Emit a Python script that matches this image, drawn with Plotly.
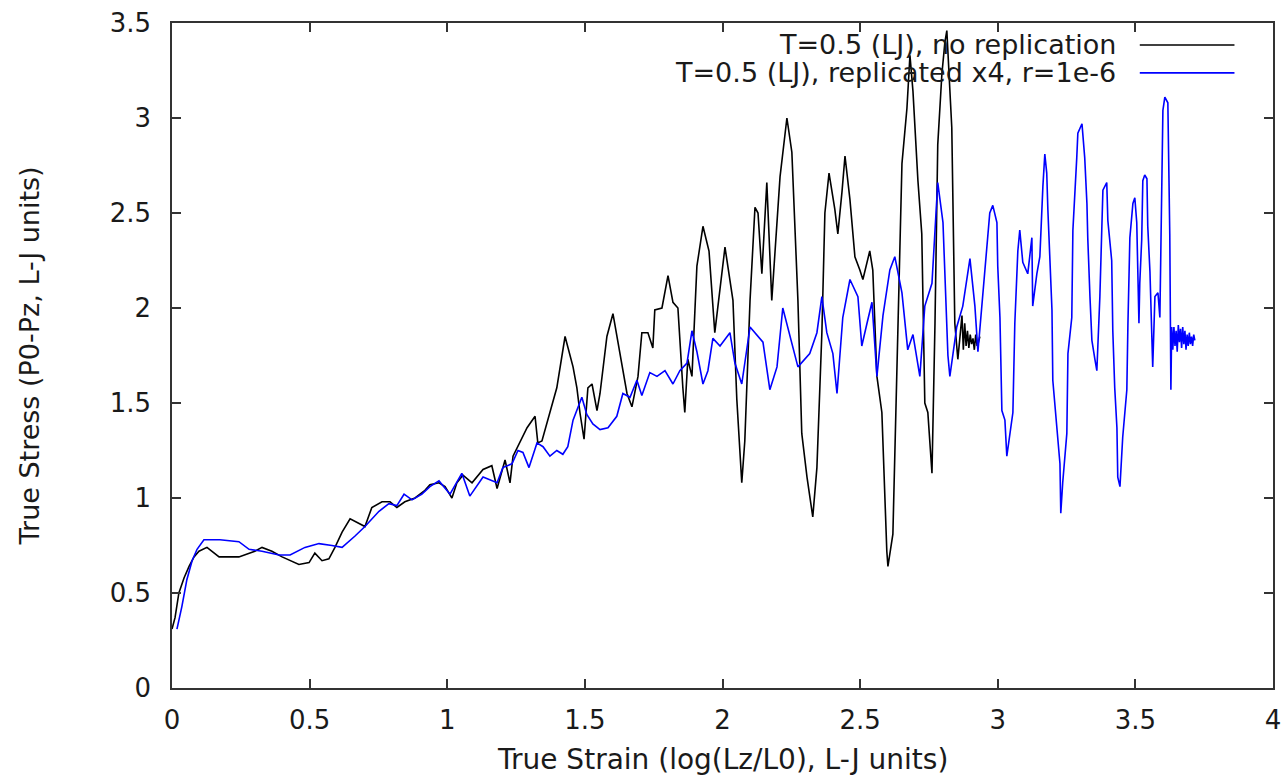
import plotly.graph_objects as go

# Black: T=0.5 (LJ), no replication
black_x = [0.000, 0.011, 0.025, 0.044, 0.062, 0.080, 0.098, 0.127, 0.171, 0.243, 0.301, 0.327, 0.363, 0.400,
           0.461, 0.498, 0.519, 0.545, 0.570, 0.592, 0.618, 0.647, 0.701, 0.726, 0.763, 0.792, 0.817, 0.846,
           0.883, 0.919, 0.937, 0.970, 0.992, 1.017, 1.035, 1.057, 1.090, 1.130, 1.162, 1.181, 1.210, 1.228,
           1.239, 1.264, 1.290, 1.319, 1.329, 1.344, 1.373, 1.398, 1.428, 1.457, 1.471, 1.482, 1.497, 1.511,
           1.526, 1.544, 1.555, 1.580, 1.602, 1.627, 1.653, 1.671, 1.693, 1.707, 1.729, 1.747, 1.754, 1.780,
           1.802, 1.820, 1.838, 1.856, 1.863, 1.874, 1.889, 1.907, 1.929, 1.951, 1.972, 2.009, 2.038, 2.052,
           2.070, 2.081, 2.100, 2.118, 2.129, 2.143, 2.161, 2.179, 2.209, 2.234, 2.252, 2.274, 2.288, 2.307,
           2.328, 2.343, 2.361, 2.372, 2.387, 2.408, 2.419, 2.434, 2.445, 2.463, 2.481, 2.499, 2.510, 2.535,
           2.546, 2.561, 2.579, 2.597, 2.601, 2.619, 2.634, 2.652, 2.670, 2.681, 2.692, 2.710, 2.724, 2.735,
           2.746, 2.761, 2.772, 2.782, 2.797, 2.808, 2.815, 2.833, 2.844, 2.855, 2.870, 2.875, 2.880, 2.885,
           2.890, 2.895, 2.900, 2.905, 2.910, 2.915, 2.920, 2.925, 2.930, 2.935]
black_y = [0.31, 0.37, 0.50, 0.58, 0.64, 0.69, 0.72, 0.74, 0.69, 0.69, 0.72, 0.74, 0.72, 0.69,
           0.65, 0.66, 0.71, 0.67, 0.68, 0.74, 0.82, 0.89, 0.85, 0.95, 0.98, 0.98, 0.95, 0.98,
           1.00, 1.04, 1.07, 1.08, 1.06, 1.00, 1.08, 1.12, 1.08, 1.15, 1.17, 1.05, 1.20, 1.08,
           1.22, 1.29, 1.37, 1.43, 1.29, 1.30, 1.45, 1.58, 1.85, 1.69, 1.58, 1.45, 1.31, 1.58,
           1.60, 1.46, 1.55, 1.85, 1.97, 1.76, 1.55, 1.48, 1.64, 1.87, 1.87, 1.79, 1.99, 2.00,
           2.17, 2.03, 2.00, 1.58, 1.45, 1.73, 1.64, 2.22, 2.43, 2.30, 1.87, 2.32, 2.04, 1.52,
           1.08, 1.30, 2.04, 2.53, 2.50, 2.18, 2.66, 2.04, 2.69, 3.00, 2.82, 2.04, 1.34, 1.11,
           0.90, 1.16, 1.87, 2.50, 2.71, 2.52, 2.39, 2.61, 2.80, 2.57, 2.27, 2.20, 2.15, 2.30,
           2.20, 1.64, 1.45, 0.72, 0.64, 0.81, 1.64, 2.76, 3.05, 3.33, 3.14, 2.67, 2.39, 1.50,
           1.45, 1.13, 1.92, 2.86, 3.23, 3.40, 3.46, 2.95, 1.92, 1.73, 1.96, 1.78, 1.92, 1.80,
           1.88, 1.79, 1.86, 1.81, 1.84, 1.78, 1.86, 1.80, 1.82, 1.85]

# Blue: T=0.5 (LJ), replicated x4, r=1e-6
blue_x = [0.018, 0.036, 0.054, 0.073, 0.091, 0.116, 0.174, 0.243, 0.280, 0.327, 0.389, 0.429, 0.483, 0.534,
          0.581, 0.618, 0.665, 0.701, 0.752, 0.788, 0.817, 0.843, 0.872, 0.908, 0.937, 0.970, 1.010, 1.053,
          1.082, 1.130, 1.181, 1.202, 1.235, 1.257, 1.275, 1.297, 1.326, 1.348, 1.373, 1.398, 1.420, 1.438,
          1.457, 1.489, 1.507, 1.529, 1.555, 1.584, 1.616, 1.638, 1.664, 1.689, 1.707, 1.736, 1.762, 1.791,
          1.820, 1.845, 1.871, 1.889, 1.907, 1.929, 1.947, 1.965, 1.991, 2.027, 2.045, 2.070, 2.100, 2.147,
          2.172, 2.198, 2.219, 2.263, 2.274, 2.317, 2.343, 2.361, 2.379, 2.401, 2.416, 2.437, 2.463, 2.492,
          2.506, 2.525, 2.543, 2.561, 2.583, 2.608, 2.626, 2.652, 2.673, 2.692, 2.717, 2.735, 2.761, 2.782,
          2.801, 2.819, 2.826, 2.851, 2.873, 2.899, 2.917, 2.928, 2.953, 2.971, 2.982, 2.997, 3.000, 3.008,
          3.015, 3.026, 3.033, 3.044, 3.055, 3.062, 3.069, 3.073, 3.080, 3.088, 3.091, 3.109, 3.124, 3.127,
          3.142, 3.153, 3.160, 3.164, 3.171, 3.178, 3.182, 3.189, 3.197, 3.200, 3.215, 3.226, 3.229, 3.236,
          3.251, 3.255, 3.269, 3.273, 3.287, 3.291, 3.306, 3.316, 3.324, 3.327, 3.335, 3.342, 3.353, 3.360,
          3.371, 3.378, 3.382, 3.396, 3.400, 3.414, 3.418, 3.425, 3.433, 3.436, 3.444, 3.454, 3.469, 3.473,
          3.480, 3.491, 3.498, 3.505, 3.509, 3.513, 3.516, 3.523, 3.527, 3.534, 3.542, 3.545, 3.553, 3.560,
          3.563, 3.571, 3.582, 3.589, 3.592, 3.596, 3.600, 3.607, 3.618, 3.625, 3.629, 3.632, 3.636, 3.640,
          3.644, 3.648, 3.652, 3.656, 3.660, 3.664, 3.668, 3.672, 3.676, 3.680, 3.684, 3.688, 3.692, 3.696,
          3.700, 3.704, 3.708, 3.712, 3.716]
blue_y = [0.31, 0.43, 0.57, 0.67, 0.73, 0.78, 0.78, 0.77, 0.73, 0.72, 0.70, 0.70, 0.74, 0.76,
          0.75, 0.74, 0.80, 0.85, 0.93, 0.97, 0.96, 1.02, 0.99, 1.02, 1.06, 1.09, 1.02, 1.13,
          1.01, 1.11, 1.08, 1.16, 1.18, 1.25, 1.24, 1.16, 1.29, 1.27, 1.22, 1.25, 1.23, 1.27,
          1.41, 1.53, 1.44, 1.39, 1.36, 1.37, 1.43, 1.55, 1.53, 1.62, 1.54, 1.66, 1.64, 1.67,
          1.60, 1.67, 1.71, 1.88, 1.77, 1.60, 1.67, 1.84, 1.80, 1.87, 1.71, 1.60, 1.90, 1.82,
          1.57, 1.69, 2.00, 1.76, 1.69, 1.76, 1.87, 2.06, 1.87, 1.76, 1.55, 1.95, 2.15, 2.06,
          1.80, 1.92, 2.03, 1.64, 1.96, 2.20, 2.27, 2.08, 1.78, 1.86, 1.64, 2.01, 2.13, 2.66,
          2.45, 1.75, 1.64, 1.90, 2.01, 2.26, 2.01, 1.77, 2.20, 2.50, 2.54, 2.45, 2.22, 1.95,
          1.46, 1.41, 1.22, 1.34, 1.45, 1.92, 2.20, 2.30, 2.41, 2.27, 2.24, 2.18, 2.37, 2.01,
          2.18, 2.27, 2.57, 2.64, 2.81, 2.71, 2.52, 2.24, 1.99, 1.62, 1.34, 1.18, 0.92, 1.08,
          1.34, 1.76, 1.95, 2.41, 2.79, 2.92, 2.97, 2.79, 2.55, 2.37, 2.06, 1.83, 1.73, 1.67,
          2.06, 2.45, 2.62, 2.66, 2.46, 2.25, 1.88, 1.58, 1.37, 1.11, 1.06, 1.32, 1.57, 1.92,
          2.37, 2.55, 2.58, 2.45, 2.13, 1.92, 2.13, 2.36, 2.67, 2.70, 2.68, 2.43, 2.19, 1.71,
          1.69, 2.06, 2.08, 1.95, 2.30, 2.76, 3.04, 3.11, 3.08, 2.39, 1.57, 1.90, 1.78, 1.90,
          1.80, 1.88, 1.77, 1.91, 1.82, 1.89, 1.79, 1.90, 1.81, 1.88, 1.78, 1.86, 1.80, 1.87,
          1.81, 1.85, 1.80, 1.86, 1.83]

legend_labels = ["T=0.5 (LJ), no replication", "T=0.5 (LJ), replicated x4, r=1e-6"]
line_colors = ["#000000", "#0000ff"]

x_ticks = [0, 0.5, 1, 1.5, 2, 2.5, 3, 3.5, 4]
y_ticks = [0, 0.5, 1, 1.5, 2, 2.5, 3, 3.5]

FONT = "DejaVu Sans"
TXT = "#1a1a1a"

fig = go.Figure()
fig.add_trace(go.Scatter(x=black_x, y=black_y, mode="lines", name=legend_labels[0],
                         line=dict(color=line_colors[0], width=1.6), showlegend=False))
fig.add_trace(go.Scatter(x=blue_x, y=blue_y, mode="lines", name=legend_labels[1],
                         line=dict(color=line_colors[1], width=1.6), showlegend=False))

axis_common = dict(showline=True, linecolor="#333333", linewidth=1.5, mirror="allticks",
                   ticks="inside", ticklen=9, tickwidth=1.5, tickcolor="#333333",
                   showgrid=False, zeroline=False, automargin=False,
                   tickfont=dict(family=FONT, size=26, color=TXT))

fig.update_xaxes(range=[0, 4], tickvals=x_ticks, ticklabelstandoff=8, **axis_common)
fig.update_yaxes(range=[0, 3.5], tickvals=y_ticks, ticklabelstandoff=14, **axis_common)

# axis titles
fig.add_annotation(xref="paper", yref="paper", x=0.5, y=-0.108, yanchor="middle", xanchor="center",
                   text="True Strain (log(Lz/L0), L-J units)", showarrow=False,
                   font=dict(family=FONT, size=28, color=TXT))
fig.add_annotation(xref="paper", yref="paper", x=-0.129, y=0.5, yanchor="middle", xanchor="center",
                   text="True Stress (P0-Pz, L-J units)", showarrow=False, textangle=-90,
                   font=dict(family=FONT, size=27, color=TXT))

# gnuplot-style key: right-aligned text with line sample on the right
key_y = [0.967, 0.925]
for lbl, col, ky in zip(legend_labels, line_colors, key_y):
    fig.add_annotation(xref="paper", yref="paper", x=0.859, y=ky, text=lbl, showarrow=False,
                       xanchor="right", yanchor="middle",
                       font=dict(family=FONT, size=27, color=TXT))
    fig.add_shape(type="line", xref="paper", yref="paper", x0=0.879, x1=0.965, y0=ky, y1=ky,
                  line=dict(color=col, width=1.6))

fig.update_layout(width=1286, height=778, plot_bgcolor="white", paper_bgcolor="white",
                  margin=dict(l=172, r=13, t=23, b=90, autoexpand=False), showlegend=False)

# remove the default 8px page margin so the figure fills the window exactly
fig.write_html("out.html", config={"displayModeBar": False},
               post_script="document.body.style.margin='0';document.body.style.overflow='hidden';")
